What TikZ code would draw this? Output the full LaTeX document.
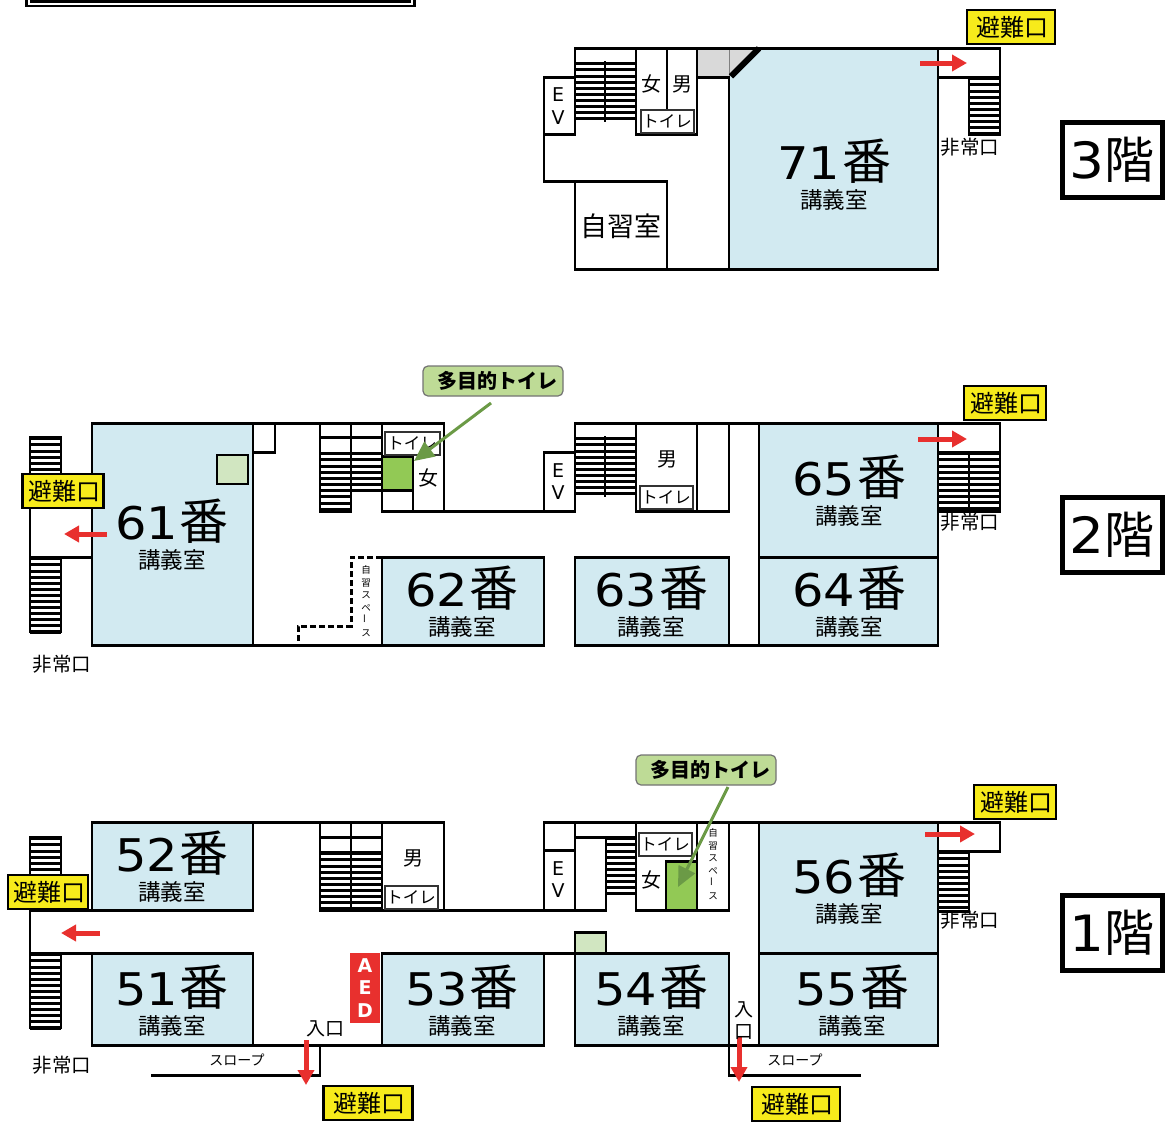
\documentclass[tikz,border=0pt]{standalone}
\usepackage{fontspec}
\usetikzlibrary{arrows.meta}
\setmainfont{Noto Sans CJK JP}
\newfontfamily\numfont{DejaVu Sans}
\definecolor{roomblue}{HTML}{D2EAF1}
\definecolor{signyellow}{HTML}{F7EB1B}
\definecolor{exitred}{HTML}{E8302E}
\definecolor{wcgreen}{HTML}{92C955}
\definecolor{palegreen}{HTML}{D1E6C1}
\definecolor{calloutgreen}{HTML}{BEDB96}
\definecolor{arrowgreen}{HTML}{6B9A46}
\newcommand{\fsize}[1]{\fontsize{#1}{#1}\selectfont}
\newcommand{\widenum}[1]{\scalebox{1.1}[1]{\numfont #1}}
\tikzset{
  wall/.style={line width=2.9pt,line cap=rect},
  txt/.style={inner sep=0pt,outer sep=0pt},
  tread/.style={line width=3pt},
  exitsign/.style={draw=black,line width=2.2pt,fill=signyellow,inner sep=0pt,minimum height=34pt,text=black,font=\fsize{24}},
  wcsign/.style={draw=black!80,line width=2pt,fill=white,inner sep=0pt,minimum height=23pt,minimum width=53pt,font=\fsize{16.5}},
  wclabel/.style={txt,font=\fsize{20}},
  callout/.style={draw=black!55,line width=1.2pt,rounded corners=5pt,fill=calloutgreen,inner sep=0pt,minimum height=30pt,minimum width=140pt,font=\bfseries\fsize{20}},
  floorbox/.style={draw=black,line width=5pt,fill=white,inner sep=0pt,minimum width=100pt,minimum height=75pt,font=\fsize{50}},
  escape/.style={exitred,line width=5pt,-{Triangle[length=15pt,width=16pt]}},
  wcarrow/.style={arrowgreen,line width=3pt,-{Triangle[length=20pt,width=18pt]}}
}
% x1,y1,x2,y2 of a flight of stairs
\newcommand{\flight}[4]{
  \pgfmathtruncatemacro{\nstep}{(#4-#2)/6.1}
  \foreach \s in {0,...,\nstep}
    \draw[tread] (#1,#2+1.5+6.1*\s) -- (#3,#2+1.5+6.1*\s);
}
% x1,y1,x2,y2
\newcommand{\roomfill}[4]{\fill[roomblue] (#1,#2) rectangle (#3,#4);}
% name, number, cx, cy
\newcommand{\roomtext}[4]{
  \node[txt] (#1) at (#3,#4) {\fsize{45}\widenum{#2}\hspace{2pt}\fsize{49}番};
  \node[txt,font=\fsize{22.5}] (#1sub) at (#3,#4+39) {講義室};
}
\newcommand{\hinan}[3]{\node[exitsign,minimum width=#3] (#1) at (#2) {\hspace{2pt}避難口};}
\newcommand{\toilet}{\raisebox{-1.5pt}{トイレ}}
\begin{document}
\begin{tikzpicture}[x=1pt,y=-1pt]
  \useasboundingbox (0,0) rectangle (1167,1122);
  % cut off frame at the top
  \fill (25,0) rectangle (416,7);
  \fill[white] (28,0) rectangle (413,5);
  \fill (30,0) rectangle (411,3);

  \begin{scope}[yshift=0.7pt]
  % room fills
  \fill[roomblue] (729,78) -- (759,49) -- (938,49) -- (938,270) -- (729,270) -- cycle;
  \fill[black!15] (697,49) -- (759,49) -- (729,78) -- (697,78) -- cycle;
  \roomfill{92}{424}{253}{646}
  \roomfill{382}{558}{544}{646}
  \roomfill{575}{558}{729}{646}
  \roomfill{759}{424}{938}{646}
  \roomfill{92}{823}{253}{911}
  \roomfill{92}{954}{253}{1046}
  \roomfill{382}{954}{544}{1046}
  \roomfill{575}{954}{729}{1046}
  \roomfill{759}{823}{938}{1046}
  \fill[wcgreen] (382,458) rectangle (413,491);
  \fill[wcgreen] (666,862) rectangle (697,911);
  \draw[fill=palegreen,line width=2pt] (217,456) rectangle (248,485);
  \fill[palegreen] (575,933) rectangle (606,954);
  \fill[exitred] (350,954) rectangle (380,1024);

  % stairs
  \flight{575}{63}{636}{123}
  \flight{969}{78}{1000}{135}
  \flight{30}{438}{61}{476}
  \flight{30}{558}{61}{632}
  \flight{320}{453}{382}{490}
  \flight{320}{490}{351}{512}
  \flight{575}{438}{636}{498}
  \flight{938}{453}{1000}{512}
  \flight{30}{838}{61}{878}
  \flight{30}{954}{61}{1028}
  \flight{320}{853}{382}{911}
  \flight{606}{838}{636}{898}
  \flight{938}{852}{969}{912}

  % third floor
  \draw[gray,line width=1pt] (729,49) -- (729,78);
  \draw[line width=6pt] (731,77) -- (759,49);
  \draw[wall] (575,49) -- (759,49) (759,49) -- (1000,49) -- (1000,78) -- (938,78)
    (544,78) -- (575,78) (544,78) -- (544,182) -- (667,182) (544,135) -- (575,135)
    (575,49) -- (575,135) (575,182) -- (575,270) -- (938,270) -- (938,49)
    (667,182) -- (667,270) (729,78) -- (729,270) (697,78) -- (729,78)
    (636,49) -- (636,135) -- (697,135) -- (697,49) (667,49) -- (667,135)
    (605,63) -- (605,121) (969,78) -- (969,135) -- (1000,135) -- (1000,78);

  % second floor
  \draw[wall] (92,424) rectangle (253,646) (253,424) -- (444,424)
    (30,438) rectangle (61,476) (30,505) -- (30,558) -- (92,558) (30,505) -- (92,505)
    (30,558) rectangle (61,632)
    (253,453) -- (275,453) -- (275,424)
    (320,424) -- (320,512) -- (351,512) -- (351,424) (320,438) -- (382,438)
    (382,424) -- (382,512) -- (544,512) (413,458) -- (413,512) (444,424) -- (444,512)
    (382,457) -- (413,457) (382,491) -- (413,491)
    (253,646) -- (544,646) (382,558) -- (544,558) -- (544,646) (382,558) -- (382,646)
    (544,453) -- (575,453) (544,453) -- (544,512) -- (575,512) -- (575,424) -- (1000,424) -- (1000,453) -- (938,453)
    (605,438) -- (605,496) (636,424) -- (636,512) -- (729,512) (697,424) -- (697,512) (729,424) -- (729,512)
    (575,558) rectangle (729,646) (729,646) -- (938,646) (759,424) -- (759,646)
    (759,558) -- (938,558) (938,424) -- (938,646)
    (1000,453) -- (1000,512) -- (938,512) (969,453) -- (969,512);
  \draw[line width=3pt,dash pattern=on 6pt off 3pt] (382,558) -- (351,558) -- (351,627) -- (298,627) -- (298,646);

  % first floor
  \draw[wall] (92,823) -- (444,823) (92,823) rectangle (253,911) (92,954) rectangle (253,1046)
    (30,838) rectangle (61,878) (30,908) -- (30,954) -- (92,954) (30,911) -- (92,911)
    (30,954) rectangle (61,1028)
    (320,823) -- (320,911) (351,823) -- (351,911) (320,838) -- (382,838) (320,853) -- (382,853)
    (382,823) -- (382,911) (444,823) -- (444,911) (320,911) -- (606,911)
    (253,1046) -- (544,1046) (382,954) -- (729,954) (382,954) -- (382,1046) (544,954) -- (544,1046)
    (575,954) -- (575,1046) -- (938,1046) (729,954) -- (729,1076) -- (860,1076)
    (320,1046) -- (320,1076) -- (152,1076)
    (544,823) -- (1000,823) -- (1000,852) -- (938,852) (544,823) -- (544,911) (575,823) -- (575,911)
    (544,851) -- (575,851) (575,838) -- (636,838) (606,838) -- (606,911)
    (636,823) -- (636,911) -- (729,911) (697,823) -- (697,911) (729,823) -- (729,911)
    (666,862) -- (666,911) (666,862) -- (697,862)
    (759,823) -- (759,1046) (759,954) -- (938,954) (938,823) -- (938,1046)
    (938,912) -- (969,912) -- (969,852)
    (575,954) -- (575,933) -- (606,933) -- (606,954);
  \end{scope}

  % room labels
  \roomtext{rNana}{71}{834}{161}
  \roomtext{rRokuA}{61}{172}{521}
  \roomtext{rRokuB}{62}{462}{588}
  \roomtext{rRokuC}{63}{651}{588}
  \roomtext{rRokuD}{64}{849}{588}
  \roomtext{rRokuE}{65}{849}{477}
  \roomtext{rGoA}{51}{172}{987}
  \roomtext{rGoB}{52}{172}{853}
  \roomtext{rGoC}{53}{462}{987}
  \roomtext{rGoD}{54}{651}{987}
  \roomtext{rGoE}{55}{852}{987}
  \roomtext{rGoF}{56}{849}{875}
  \node[txt,font=\fsize{27}] (study) at (621,226) {自習室};

  % EV
  \foreach \nm/\xx/\ya/\yb in {evA/558/95/118,evB/558/471/493,evC/558/869/891}{
    \node[txt,font=\numfont\fsize{19}] (\nm e) at (\xx,\ya) {E};
    \node[txt,font=\numfont\fsize{19}] (\nm v) at (\xx,\yb) {V};
  }

  % toilets
  \node[wclabel] (womenA) at (651,84) {女};
  \node[wclabel] (menA) at (682,84) {男};
  \node[wclabel] (womenB) at (428,478) {女};
  \node[wclabel] (menB) at (667,459) {男};
  \node[wclabel] (menC) at (413,858) {男};
  \node[wclabel] (womenC) at (651,880) {女};
  \node[wcsign] (wcA) at (667,121) {\toilet};
  \node[wcsign,minimum width=55pt] (wcB) at (412,443) {\toilet};
  \node[wcsign] (wcC) at (666,497) {\toilet};
  \node[wcsign] (wcD) at (411,897) {\toilet};
  \node[wcsign] (wcE) at (665,844) {\toilet};

  % study space
  \foreach \nm/\xx/\yy in {spaceA/366/601,spaceB/713/864}
    \node[txt,font=\fontsize{9.5}{12.5}\selectfont,align=center] (\nm) at (\xx,\yy)
      {自\\習\\ス\\ペ\\\rotatebox{90}{ー}\\ス};

  % accessible toilet callouts
  \node[callout] (wideA) at (493,381) {\raisebox{-1.5pt}{\hspace{8pt}多目的トイレ}};
  \node[callout] (wideB) at (706,770) {\raisebox{-1.5pt}{\hspace{8pt}多目的トイレ}};
  \coordinate (wideAend) at (414,461);
  \coordinate (wideBend) at (678,887);
  \draw[wcarrow] (491,403) -- (wideAend);
  \draw[wcarrow] (728,787) -- (wideBend);

  % AED
  \foreach \nm/\ch/\yy in {aedA/A/966,aedE/E/988,aedD/D/1011}
    \node[txt,white,font=\numfont\bfseries\fsize{19}] (\nm) at (365,\yy) {\ch};

  % exit arrows
  \foreach \nm/\xa/\ya/\xb/\yb in {e1/920/63/967/63,e2/918/439/967/439,e3/107/534/64/534,
      e4/925/834/975/834,e5/100/933/61/933,e6/306/1040/306/1085,e7/739/1037/739/1082}{
    \coordinate (\nm a) at (\xa,\ya);
    \coordinate (\nm b) at (\xb,\yb);
    \draw[escape] (\nm a) -- (\nm b);
  }

  % exit signs
  \hinan{signA}{1011,27}{88pt}
  \hinan{signB}{1005,403}{82pt}
  \hinan{signC}{63,491}{81pt}
  \hinan{signD}{1015,802}{82pt}
  \hinan{signE}{48,892}{80pt}
  \hinan{signF}{368,1103}{89pt}
  \hinan{signG}{796,1104}{88pt}

  % emergency exit, entrance, slope
  \foreach \nm/\xx/\yy in {fireA/970/147,fireB/970/522,fireC/62/664,fireD/970/920,fireE/62/1065}
    \node[txt,font=\fsize{19.5}] (\nm) at (\xx,\yy) {非常口};
  \node[txt,font=\fsize{19}] (doorA) at (325,1029) {入口};
  \node[txt,font=\fsize{19}] (doorBa) at (744,1010) {入};
  \node[txt,font=\fsize{19}] (doorBb) at (744,1032) {口};
  \node[txt,font=\fsize{14}] (slopeA) at (237,1060) {スロープ};
  \node[txt,font=\fsize{14}] (slopeB) at (795,1060) {スロープ};

  % floor marks
  \node[floorbox] (third) at (1112,160) {\widenum{3}階};
  \node[floorbox] (second) at (1112,535) {\widenum{2}階};
  \node[floorbox] (first) at (1112,933) {\widenum{1}階};
\end{tikzpicture}
\end{document}
